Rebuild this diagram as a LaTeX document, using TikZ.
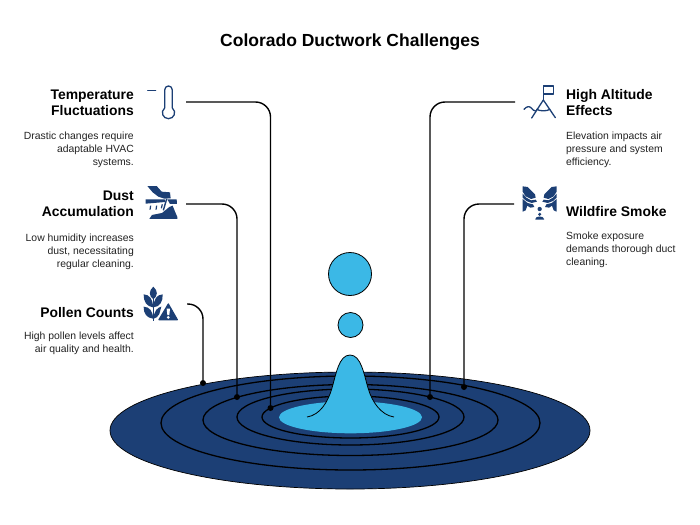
\documentclass[tikz,border=0pt]{standalone}
\usepackage{fontspec}
\setmainfont{Liberation Sans}
\definecolor{navy}{HTML}{1C3F75}
\definecolor{sky}{HTML}{3BB8E6}
\definecolor{inkc}{HTML}{222222}
\tikzset{
  ttl/.style={font=\fontsize{17.5}{20}\selectfont\bfseries,text=black},
  headl/.style={font=\fontsize{13.9}{16.4}\selectfont\bfseries,align=right,anchor=east,inner sep=0pt,text=black},
  bodyl/.style={font=\fontsize{10.4}{12.8}\selectfont,align=right,anchor=north east,inner sep=0pt,text=inkc},
  headr/.style={font=\fontsize{13.9}{16.4}\selectfont\bfseries,align=left,anchor=west,inner sep=0pt,text=black},
  bodyr/.style={font=\fontsize{10.4}{12.8}\selectfont,align=left,anchor=north west,inner sep=0pt,text=inkc},
  conn/.style={draw=black,line width=1.4pt,rounded corners=15pt},
  dot/.style={circle,fill=black,inner sep=0pt,minimum size=6pt},
  ring/.style={draw=black,line width=1.3pt},
  iconline/.style={draw=navy,line width=1.3pt,line cap=round,line join=round},
  zoomed/.style={x=0.3333pt,y=-0.3333pt}
}
\begin{document}
\begin{tikzpicture}[x=1pt,y=-1pt]
\useasboundingbox (0,0) rectangle (700,524);
\fill[white] (0,0) rectangle (700,524);
\node[ttl] (title) at (350,42) {Colorado Ductwork Challenges};

% pond
\draw[fill=navy,draw=black,line width=0.7pt] (350,430.5) ellipse [x radius=240,y radius=58.5];
\draw[ring] (350.5,423) ellipse [x radius=189.5,y radius=47];
\draw[ring] (350.5,420) ellipse [x radius=147.5,y radius=35.5];
\draw[ring] (350.5,417) ellipse [x radius=113.5,y radius=28];
\draw[ring] (350.5,417) ellipse [x radius=88.5,y radius=21];
\fill[sky] (350.5,417.3) ellipse [x radius=71.5,y radius=16];
% peak
\fill[sky] (307,417) .. controls (320,415) and (328,402) .. (332,388)
  .. controls (336,374) and (339,355) .. (350,355)
  .. controls (361,355) and (364,374) .. (368,388)
  .. controls (372,402) and (381,415) .. (394,417) -- cycle;
\draw[black,line width=0.8pt] (307,417) .. controls (320,415) and (328,402) .. (332,388)
  .. controls (336,374) and (339,355) .. (350,355)
  .. controls (361,355) and (364,374) .. (368,388)
  .. controls (372,402) and (381,415) .. (394,417);
% drops
\node[circle,fill=sky,draw=black,line width=0.8pt,inner sep=0pt,minimum size=43pt] (drop1) at (350,274) {};
\node[circle,fill=sky,draw=black,line width=0.8pt,inner sep=0pt,minimum size=25pt] (drop2) at (350.5,325) {};

% anchors
\node[dot] (d1) at (270.5,408) {};
\node[dot] (d2) at (237,397) {};
\node[dot] (d3) at (203,383) {};
\node[dot] (d4) at (430,397) {};
\node[dot] (d5) at (464,387) {};
\coordinate (s1) at (186,102);
\coordinate (s2) at (186,204);
\coordinate (s3) at (187,304);
\coordinate (s4) at (515,102);
\coordinate (s5) at (514,204);
\draw[conn] (s1) -| (d1);
\draw[conn] (s2) -| (d2);
\draw[conn] (s3) -| (d3);
\draw[conn] (s4) -| (d4);
\draw[conn] (s5) -| (d5);

% left text
\node[headl] (h1) at (134,102.8) {Temperature\\Fluctuations};
\node[bodyl] (b1) at (134,132) {Drastic changes require\\adaptable HVAC\\systems.};
\node[headl] (h2) at (134,203.8) {Dust\\Accumulation};
\node[bodyl] (b2) at (134,234) {Low humidity increases\\dust, necessitating\\regular cleaning.};
\node[headl] (h3) at (134,312.5) {Pollen Counts};
\node[bodyl] (b3) at (134,332) {High pollen levels affect\\air quality and health.};
% right text
\node[headr] (h4) at (566,102.3) {High Altitude\\Effects};
\node[bodyr] (b4) at (566,132) {Elevation impacts air\\pressure and system\\efficiency.};
\node[headr] (h5) at (566,211.5) {Wildfire Smoke};
\node[bodyr] (b5) at (566,232) {Smoke exposure\\demands thorough duct\\cleaning.};

% thermometer
\begin{scope}[shift={(130,70)},zoomed]
\draw[iconline] (53,62) -- (77,62);
\draw[iconline] (104,114) -- (104,60) .. controls (104,44) and (127,44) .. (127,60) -- (127,114)
  .. controls (141,126) and (132,146) .. (115.5,146) .. controls (99,146) and (90,126) .. (104,114) -- cycle;
\end{scope}

% dust icon
\begin{scope}[shift={(130,175)},zoomed]
\fill[navy] (52,33) -- (80,33) -- (95,50) -- (120,52) -- (122,70) -- (103,71) -- (85,65) -- (68,52) -- cycle;
\fill[navy] (47,73) -- (104,73) -- (106,81) -- (47,86) -- cycle;
\fill[navy] (112,73) -- (140,73) -- (141,87) -- (120,87) -- cycle;
\draw[navy,line width=1.2pt] (62,92) -- (60,104);
\draw[navy,line width=1.2pt] (80,92) -- (78,104);
\draw[navy,line width=1.2pt] (97,88) -- (94,100);
\draw[navy,line width=1.4pt] (110,72) -- (100,106);
\fill[navy] (58,132) -- (66,120) -- (96,114) -- (118,96) -- (128,92) -- (136,112) -- (142,126) -- (142,132) -- cycle;
\end{scope}

% pollen icon
\begin{scope}[shift={(130,280)},zoomed]
\draw[navy,line width=1.5pt] (70,122) -- (70,50);
\fill[navy] (70,20) .. controls (84,32) and (84,48) .. (70,58) .. controls (56,48) and (56,32) .. (70,20) -- cycle;
\fill[navy] (41,43) .. controls (58,44) and (69,56) .. (69,82) .. controls (50,80) and (40,64) .. (41,43) -- cycle;
\fill[navy] (98,43) .. controls (81,44) and (71,56) .. (71,82) .. controls (90,80) and (99,64) .. (98,43) -- cycle;
\fill[navy] (41,80) .. controls (58,81) and (69,92) .. (69,116) .. controls (50,114) and (40,100) .. (41,80) -- cycle;
\fill[navy] (94,80) .. controls (84,82) and (71,92) .. (71,116) .. controls (78,115) and (84,110) .. (88,102) -- cycle;
\fill[navy,draw=navy,line width=1.2pt,line join=round] (115,72) -- (142,119) -- (87,119) -- cycle;
\fill[white] (110,86) -- (120,86) -- (118,105) -- (112,105) -- cycle;
\fill[white] (115,112) circle [radius=4.5];
\end{scope}

% altitude icon
\begin{scope}[shift={(500,75)},zoomed]
\draw[iconline] (130,33) rectangle (160,57);
\draw[iconline] (130,33) -- (130,75);
\draw[iconline] (95,129) -- (130,75) -- (166,128);
\draw[iconline] (110,103) .. controls (120,109) and (140,109) .. (150,103);
\draw[iconline] (72,103) .. controls (80,94) and (88,92) .. (95,100) .. controls (98,104) and (102,108) .. (107,108);
\end{scope}

% wildfire icon
\begin{scope}[shift={(500,175)},zoomed]
\foreach \m in {1,-1}{
\begin{scope}[shift={(119,0)},xscale=\m]
\fill[navy] (-51,34) -- (-36,36) -- (-14,58) -- (-12,68) -- (-26,72) -- (-42,64) -- (-51,50) -- cycle;
\fill[navy] (-51,56) -- (-40,68) -- (-26,76) -- (-12,74) -- (-8,80) -- (-24,84) -- (-40,78) -- (-51,68) -- cycle;
\fill[navy] (-51,72) -- (-36,84) -- (-20,88) -- (-16,96) -- (-28,98) -- (-37,92) -- (-42,106) -- (-51,110) -- cycle;
\end{scope}
}
\fill[navy] (119,102) circle [radius=6.5];
\fill[navy] (119,118) circle [radius=5];
\fill[navy] (106,134) -- (106,132) .. controls (106,122) and (132,122) .. (132,132) -- (132,134) -- cycle;
\end{scope}
\end{tikzpicture}
\end{document}
